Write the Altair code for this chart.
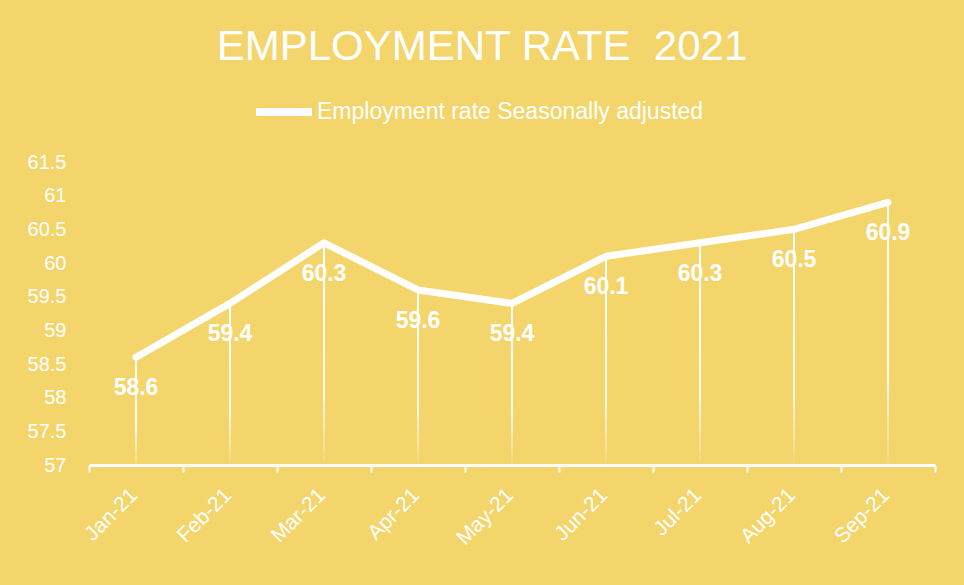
import altair as alt
import pandas as pd

months = ["Jan-21", "Feb-21", "Mar-21", "Apr-21", "May-21", "Jun-21", "Jul-21", "Aug-21", "Sep-21"]
rates = [58.6, 59.4, 60.3, 59.6, 59.4, 60.1, 60.3, 60.5, 60.9]
series_name = "Employment rate Seasonally adjusted"
title_text = "EMPLOYMENT RATE \u00a02021"
y_ticks = [57, 57.5, 58, 58.5, 59, 59.5, 60, 60.5, 61, 61.5]

df = pd.DataFrame({"month": months, "rate": rates, "series": [series_name] * len(months), "base": [57] * len(months)})

BG = "#F3D56B"
FONT = "Liberation Sans"

x_enc = alt.X("month:N", sort=months, title=None,
              scale=alt.Scale(type="band", paddingInner=0, paddingOuter=0),
              axis=alt.Axis(labelAngle=-45, labelFontSize=21, labelColor="white", labelFont=FONT,
                            domainColor="white", domainWidth=3, tickColor="white", tickWidth=2,
                            tickSize=7, tickBand="extent", labelPadding=12, labelOffset=-10, grid=False))
y_scale = alt.Scale(domain=[57, 61.5], nice=False, zero=False)
y_enc = alt.Y("rate:Q", scale=y_scale, title=None,
              axis=alt.Axis(values=y_ticks, format="~g", labelFontSize=20, labelColor="white", labelFont=FONT,
                            domain=False, ticks=False, tickSize=0, grid=False, labelPadding=23))

base = alt.Chart(df)

drops = base.mark_bar(size=2, color=alt.Gradient(
    gradient="linear", x1=0, x2=0, y1=0, y2=1,
    stops=[alt.GradientStop(offset=0, color="rgba(255,255,255,1)"),
           alt.GradientStop(offset=0.7, color="rgba(255,255,255,0.85)"),
           alt.GradientStop(offset=1, color="rgba(255,255,255,0.05)")])).encode(
    x=x_enc, y=y_enc, y2="base:Q")

line = base.mark_line(strokeWidth=7, strokeCap="round", strokeJoin="round").encode(
    x=x_enc, y=y_enc,
    color=alt.Color("series:N", scale=alt.Scale(range=["white"]),
                    legend=alt.Legend(title=None, orient="none", legendX=163, legendY=-82,
                                      direction="horizontal", symbolType="stroke", symbolSize=3136,
                                      symbolStrokeWidth=8, labelFontSize=23, labelColor="white",
                                      labelFont=FONT, labelOffset=1, labelLimit=600)))

labels = base.mark_text(dy=31, fontSize=23, fontWeight="bold", color="white", font=FONT, baseline="middle").encode(
    x=x_enc, y=y_enc, text=alt.Text("rate:Q", format=".1f"))

chart = alt.layer(drops, line, labels).properties(
    width=846, height=303,
    background=BG,
    padding={"left": 89, "top": 162, "right": 29, "bottom": 120},
    autosize=alt.AutoSizeParams(type="none"),
    title=alt.TitleParams(title_text, fontSize=42, color="white", font=FONT,
                          fontWeight="normal", anchor="middle", dx=-30, offset=11),
).configure_view(stroke=None)

chart.save("out.html", embed_options={"renderer": "svg", "actions": False})
